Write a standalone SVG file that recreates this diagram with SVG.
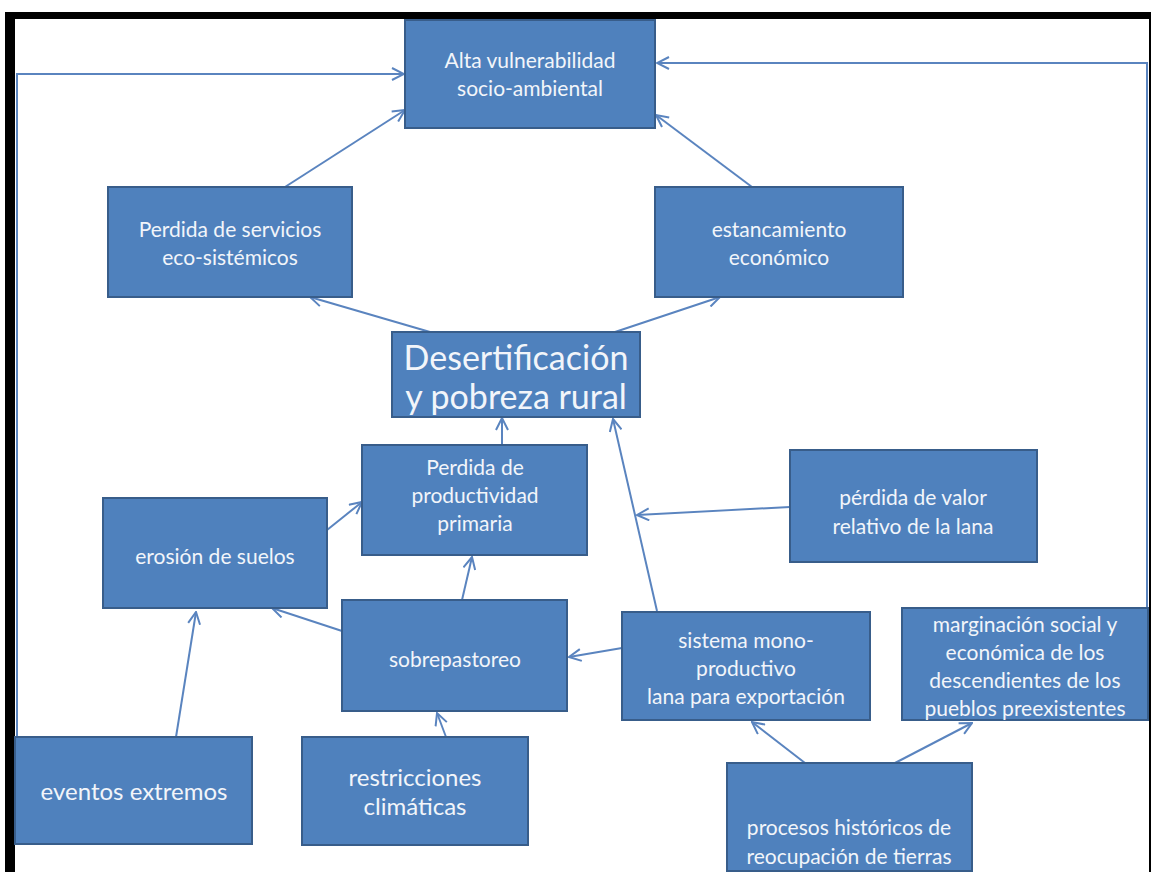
<svg xmlns="http://www.w3.org/2000/svg" width="1151" height="872" viewBox="0 0 1151 872">
<style>
.box{fill:#4f81bd;stroke:#385d8a;stroke-width:2}
.t{font-family:Lato,"Open Sans",sans-serif;font-size:21px;fill:#f2f5fa;text-anchor:middle}
.big{font-size:34px}
.mid{font-size:24px}
.c{fill:none;stroke:#5a84bf;stroke-width:2}
</style>
<defs>
<marker id="arr" viewBox="0 0 14 14" refX="13" refY="7" markerWidth="14" markerHeight="14" markerUnits="userSpaceOnUse" orient="auto">
<path d="M1,1 L13,7 L1,13" fill="none" stroke="#5a84bf" stroke-width="2"/>
</marker>
</defs>
<rect x="0" y="0" width="1151" height="872" fill="#fff"/>
<g id="frame">
<rect x="5" y="12" width="1146" height="7" fill="#000"/>
<rect x="5" y="12" width="10" height="860" fill="#000"/>
<rect x="1149" y="12" width="2" height="860" fill="#000"/>
</g>
<g id="connectors">
<polyline class="c" points="17,737 17,74 404,74" marker-end="url(#arr)"/>
<polyline class="c" points="1147,608 1147,63 657,63" marker-end="url(#arr)"/>
<line class="c" x1="285" y1="187" x2="405" y2="110" marker-end="url(#arr)"/>
<line class="c" x1="752" y1="187" x2="656" y2="115" marker-end="url(#arr)"/>
<line class="c" x1="430" y1="332" x2="310" y2="297" marker-end="url(#arr)"/>
<line class="c" x1="615" y1="332" x2="720" y2="297" marker-end="url(#arr)"/>
<line class="c" x1="502" y1="445" x2="502" y2="418" marker-end="url(#arr)"/>
<line class="c" x1="657" y1="611" x2="613" y2="419" marker-end="url(#arr)"/>
<line class="c" x1="790" y1="507" x2="637" y2="515" marker-end="url(#arr)"/>
<line class="c" x1="327" y1="530" x2="362" y2="502" marker-end="url(#arr)"/>
<line class="c" x1="462" y1="600" x2="472" y2="557" marker-end="url(#arr)"/>
<line class="c" x1="342" y1="631" x2="272" y2="608" marker-end="url(#arr)"/>
<line class="c" x1="176" y1="737" x2="196" y2="612" marker-end="url(#arr)"/>
<line class="c" x1="446" y1="737" x2="437" y2="713" marker-end="url(#arr)"/>
<line class="c" x1="622" y1="648" x2="569" y2="657" marker-end="url(#arr)"/>
<line class="c" x1="805" y1="763" x2="752" y2="722" marker-end="url(#arr)"/>
<line class="c" x1="895" y1="763" x2="972" y2="723" marker-end="url(#arr)"/>
</g>
<g id="n-alta">
<rect class="box" x="405" y="20" width="250" height="108"/>
<text class="t" x="530" y="68">Alta vulnerabilidad</text>
<text class="t" x="530" y="96">socio-ambiental</text>
</g>
<g id="n-servicios">
<rect class="box" x="108" y="187" width="244" height="110"/>
<text class="t" x="230" y="237">Perdida de servicios</text>
<text class="t" x="230" y="265">eco-sistémicos</text>
</g>
<g id="n-estancamiento">
<rect class="box" x="655" y="187" width="248" height="110"/>
<text class="t" x="779" y="237">estancamiento</text>
<text class="t" x="779" y="265">económico</text>
</g>
<g id="n-desertificacion">
<rect class="box" x="392" y="332" width="248" height="85"/>
<text class="t big" x="516" y="370">Desertificación</text>
<text class="t big" x="516" y="409">y pobreza rural</text>
</g>
<g id="n-productividad">
<rect class="box" x="362" y="445" width="225" height="110"/>
<text class="t" x="475" y="475">Perdida de</text>
<text class="t" x="475" y="503">productividad</text>
<text class="t" x="475" y="531">primaria</text>
</g>
<g id="n-valor">
<rect class="box" x="790" y="450" width="247" height="112"/>
<text class="t" x="913" y="505">pérdida de valor</text>
<text class="t" x="913" y="534">relativo de la lana</text>
</g>
<g id="n-erosion">
<rect class="box" x="103" y="498" width="224" height="110"/>
<text class="t" x="215" y="564">erosión de suelos</text>
</g>
<g id="n-sobrepastoreo">
<rect class="box" x="342" y="600" width="225" height="111"/>
<text class="t" x="455" y="667">sobrepastoreo</text>
</g>
<g id="n-sistema">
<rect class="box" x="622" y="612" width="248" height="108"/>
<text class="t" x="746" y="648">sistema mono-</text>
<text class="t" x="746" y="676">productivo</text>
<text class="t" x="746" y="704">lana para exportación</text>
</g>
<g id="n-marginacion">
<rect class="box" x="902" y="608" width="246" height="112"/>
<text class="t" x="1025" y="632">marginación social y</text>
<text class="t" x="1025" y="660">económica de los</text>
<text class="t" x="1025" y="688">descendientes de los</text>
<text class="t" x="1025" y="716">pueblos preexistentes</text>
</g>
<g id="n-eventos">
<rect class="box" x="15" y="737" width="237" height="107"/>
<text class="t mid" x="134" y="800">eventos extremos</text>
</g>
<g id="n-restricciones">
<rect class="box" x="302" y="737" width="226" height="108"/>
<text class="t mid" x="415" y="786">restricciones</text>
<text class="t mid" x="415" y="815">climáticas</text>
</g>
<g id="n-procesos">
<rect class="box" x="727" y="763" width="245" height="108"/>
<text class="t" x="849" y="835">procesos históricos de</text>
<text class="t" x="849" y="864">reocupación de tierras</text>
</g>
</svg>
